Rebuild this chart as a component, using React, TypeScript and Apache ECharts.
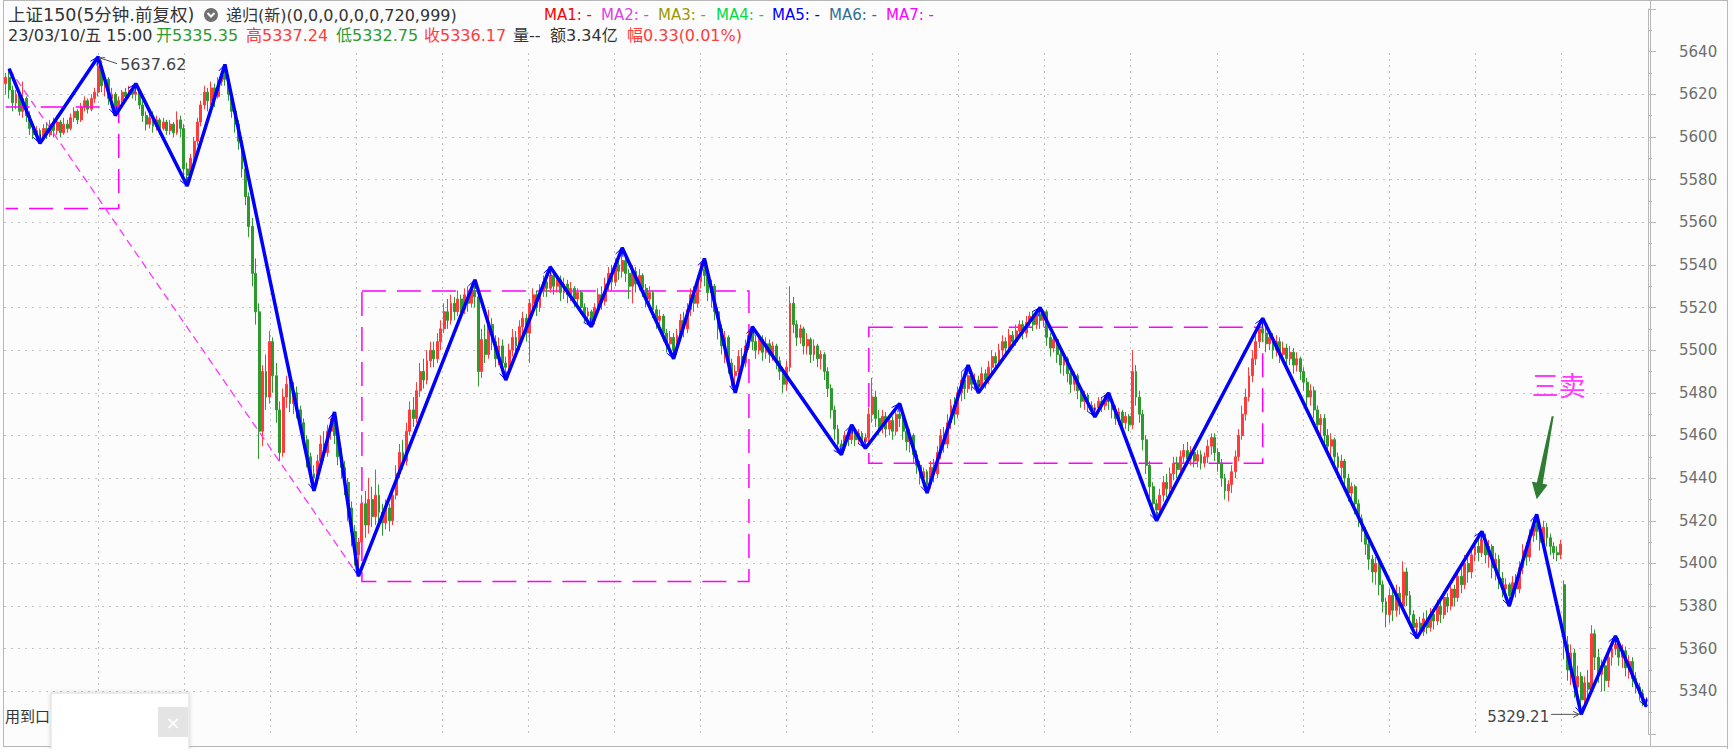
import React, { useEffect, useRef } from "react";
import * as echarts from "echarts";

// ---------------- DATA ----------------
// 5-minute bars of 上证150, rows are [open, close, low, high]
const day1 = [
  [5625,5628,5620,5630],[5628,5622,5618,5632],[5622,5616,5612,5624],[5616,5620,5613,5622],[5620,5612,5610,5621],
  [5612,5618,5609,5626],[5618,5610,5607,5619],[5610,5604,5601,5612],[5604,5601,5599,5606],[5601,5603,5598,5605],
  [5603,5599,5597,5604],[5599,5604,5598,5606],[5604,5601,5599,5607],[5601,5606,5600,5608],[5606,5603,5600,5609],
  [5603,5607,5601,5610],[5607,5602,5600,5608],[5602,5606,5601,5609],[5606,5604,5602,5608],[5604,5609,5603,5611],
  [5609,5612,5607,5614],[5612,5608,5606,5613],[5608,5614,5607,5616],[5614,5617,5612,5619],[5617,5613,5611,5618],
  [5613,5618,5612,5620],[5618,5621,5616,5623],[5621,5633,5619,5637.62],[5633,5624,5621,5634],[5624,5627,5619,5629],
  [5627,5618,5615,5628],[5618,5620,5614,5623],[5620,5613,5610,5621],[5613,5617,5611,5619],[5617,5621,5615,5622],
  [5621,5619,5617,5623],[5619,5622,5618,5624],[5622,5620,5618,5623],[5620,5621,5617,5625],[5621,5615,5613,5622],
  [5615,5610,5607,5617],[5610,5606,5603,5612],[5606,5609,5604,5611],[5609,5605,5602,5612],[5605,5608,5603,5610],
  [5608,5604,5601,5609],[5604,5607,5603,5609],[5607,5603,5601,5608],
];
const day2 = [
  [5603,5606,5601,5608],[5606,5602,5600,5607],[5602,5608,5601,5612],[5608,5604,5600,5610],[5604,5585,5580,5606],
  [5585,5582,5577,5588],[5582,5590,5580,5592],[5590,5598,5588,5600],[5598,5607,5596,5609],[5607,5615,5605,5617],
  [5615,5621,5613,5624],[5621,5617,5612,5623],[5617,5623,5615,5626],[5623,5619,5614,5625],[5619,5626,5618,5628],
  [5626,5629,5624,5631],[5629,5627,5624,5634],[5627,5620,5617,5629],[5620,5612,5609,5622],[5612,5606,5602,5614],
  [5606,5598,5594,5608],[5598,5585,5581,5600],[5585,5572,5568,5587],[5572,5558,5553,5574],[5558,5536,5530,5562],
  [5536,5518,5512,5543],[5518,5462,5449,5522],[5462,5490,5455,5493],[5490,5478,5472,5498],[5478,5504,5475,5509],
  [5504,5488,5480,5506],[5488,5472,5466,5494],[5472,5452,5448,5476],[5452,5478,5450,5482],[5478,5484,5473,5488],
  [5484,5475,5471,5486],[5475,5480,5470,5485],[5480,5472,5468,5483],[5472,5466,5462,5474],[5466,5458,5454,5468],
  [5458,5450,5445,5460],[5450,5442,5438,5452],[5442,5440,5434,5446],[5440,5448,5437,5451],[5448,5456,5444,5460],
  [5456,5452,5448,5462],[5452,5462,5450,5465],[5462,5466,5458,5468],
];
const day3 = [
  [5466,5460,5456,5471],[5460,5450,5446,5463],[5450,5445,5440,5454],[5445,5438,5432,5448],[5438,5426,5420,5440],
  [5426,5415,5408,5429],[5415,5404,5399,5418],[5404,5410,5394,5412],[5410,5428,5405,5432],[5428,5418,5412,5434],
  [5418,5430,5414,5440],[5430,5422,5417,5436],[5422,5432,5418,5444],[5432,5424,5419,5437],[5424,5419,5413,5428],
  [5419,5426,5416,5430],[5426,5420,5415,5428],[5420,5432,5418,5435],[5432,5442,5430,5446],[5442,5452,5440,5456],
  [5452,5448,5444,5458],[5448,5462,5446,5466],[5462,5472,5460,5476],[5472,5468,5464,5478],[5468,5481,5466,5485],
  [5481,5490,5478,5494],[5490,5486,5482,5496],[5486,5495,5484,5500],[5495,5500,5492,5504],[5500,5496,5492,5504],
  [5496,5504,5494,5508],[5504,5510,5500,5514],[5510,5518,5508,5522],[5518,5514,5510,5524],[5514,5522,5512,5526],
  [5522,5518,5514,5525],[5518,5524,5516,5528],[5524,5519,5515,5526],[5519,5526,5517,5529],[5526,5522,5518,5530],
  [5522,5528,5520,5531],[5528,5525,5520,5533],[5525,5490,5483,5528],[5490,5505,5487,5510],[5505,5498,5494,5512],
  [5498,5512,5496,5519],[5512,5504,5500,5515],[5504,5496,5492,5507],
];
const day4 = [
  [5496,5502,5493,5506],[5502,5494,5490,5505],[5494,5492,5486,5497],[5492,5500,5489,5503],[5500,5506,5497,5510],
  [5506,5502,5498,5509],[5502,5511,5500,5514],[5511,5515,5507,5518],[5515,5508,5504,5517],[5508,5522,5494,5524],
  [5522,5526,5518,5529],[5526,5520,5516,5528],[5520,5528,5518,5531],[5528,5532,5525,5535],[5532,5529,5525,5534],
  [5529,5535,5527,5539],[5535,5530,5526,5537],[5530,5533,5527,5536],[5533,5527,5523,5535],[5527,5531,5524,5534],
  [5531,5526,5522,5533],[5526,5529,5523,5532],[5529,5524,5520,5530],[5524,5527,5521,5529],[5527,5520,5517,5528],
  [5520,5516,5513,5522],[5516,5518,5512,5520],[5518,5514,5511,5519],[5514,5520,5512,5522],[5520,5526,5518,5529],
  [5526,5523,5519,5530],[5523,5531,5521,5534],[5531,5536,5528,5539],[5536,5532,5528,5540],[5532,5540,5530,5543],
  [5540,5537,5533,5544],[5537,5542,5534,5548],[5542,5536,5532,5545],[5536,5530,5524,5538],[5530,5537,5522,5540],
  [5537,5531,5527,5539],[5531,5535,5528,5538],[5535,5529,5525,5536],[5529,5524,5520,5531],[5524,5527,5519,5530],
  [5527,5519,5515,5528],[5519,5514,5510,5521],[5514,5516,5509,5519],
];
const day5 = [
  [5516,5508,5504,5517],[5508,5503,5499,5510],[5503,5506,5498,5509],[5506,5500,5496,5508],[5500,5507,5498,5510],
  [5507,5514,5505,5517],[5514,5510,5506,5518],[5510,5519,5508,5522],[5519,5526,5516,5529],[5526,5522,5518,5530],
  [5522,5532,5520,5535],[5532,5538,5529,5541],[5538,5535,5530,5543],[5535,5527,5523,5537],[5527,5530,5520,5533],
  [5530,5518,5514,5531],[5518,5510,5505,5520],[5510,5502,5498,5512],[5502,5506,5494,5509],[5506,5494,5489,5507],
  [5494,5488,5483,5496],[5488,5490,5480,5493],[5490,5497,5488,5500],[5497,5494,5490,5501],[5494,5502,5492,5505],
  [5502,5507,5500,5509],[5507,5504,5500,5511],[5504,5500,5496,5507],[5500,5505,5498,5508],[5505,5499,5495,5507],
  [5499,5503,5496,5506],[5503,5498,5494,5505],[5498,5502,5495,5504],[5502,5495,5491,5503],[5495,5490,5486,5497],
  [5490,5484,5480,5492],[5484,5492,5481,5495],[5492,5522,5490,5530],[5522,5512,5508,5525],[5512,5506,5502,5514],
  [5506,5510,5503,5512],[5510,5502,5498,5511],[5502,5505,5498,5508],[5505,5498,5494,5506],[5498,5502,5495,5505],
  [5502,5496,5492,5503],[5496,5498,5491,5500],[5498,5490,5486,5499],
];
const day6 = [
  [5490,5482,5478,5492],[5482,5472,5468,5484],[5472,5463,5458,5474],[5463,5456,5452,5465],[5456,5455,5451,5458],
  [5455,5460,5453,5462],[5460,5458,5455,5463],[5458,5462,5456,5465],[5462,5458,5455,5464],[5458,5461,5456,5463],
  [5461,5457,5455,5462],[5457,5459,5454,5461],[5459,5470,5457,5473],[5470,5478,5466,5487],[5478,5468,5464,5481],
  [5468,5464,5460,5472],[5464,5469,5461,5472],[5469,5463,5459,5471],[5463,5467,5460,5470],[5467,5462,5458,5469],
  [5462,5470,5460,5472],[5470,5468,5464,5475],[5468,5462,5458,5470],[5462,5457,5453,5464],[5457,5460,5452,5463],
  [5460,5451,5447,5461],[5451,5446,5442,5453],[5446,5440,5437,5448],[5440,5443,5436,5445],[5443,5437,5433,5444],
  [5437,5445,5435,5448],[5445,5442,5438,5449],[5442,5452,5440,5455],[5452,5460,5449,5463],[5460,5456,5452,5464],
  [5456,5466,5454,5470],[5466,5474,5463,5477],[5474,5470,5465,5478],[5470,5480,5468,5483],[5480,5486,5476,5490],
  [5486,5482,5477,5489],[5482,5488,5480,5493],[5488,5484,5481,5490],[5484,5486,5482,5489],[5486,5483,5480,5488],
  [5483,5489,5481,5492],[5489,5486,5482,5491],[5486,5492,5484,5495],
];
const day7 = [
  [5492,5497,5489,5500],[5497,5494,5490,5499],[5494,5500,5492,5503],[5500,5504,5497,5507],[5504,5501,5497,5506],
  [5501,5507,5499,5510],[5507,5504,5501,5509],[5504,5509,5502,5512],[5509,5512,5506,5514],[5512,5508,5505,5514],
  [5508,5513,5506,5516],[5513,5516,5511,5518],[5516,5512,5509,5518],[5512,5517,5510,5519],[5517,5514,5510,5520],
  [5514,5518,5511,5519],[5518,5506,5502,5519],[5506,5501,5497,5508],[5501,5505,5499,5508],[5505,5498,5494,5506],
  [5498,5493,5489,5500],[5493,5496,5488,5499],[5496,5489,5485,5497],[5489,5484,5480,5491],[5484,5488,5481,5490],
  [5488,5481,5477,5489],[5481,5476,5473,5483],[5476,5479,5472,5481],[5479,5474,5471,5480],[5474,5472,5470,5476],
  [5472,5473,5468.7,5475],[5473,5476,5471,5478],[5476,5474,5471,5478],[5474,5478,5472,5479],[5478,5476,5472,5480],
  [5476,5472,5468,5478],[5472,5468,5465,5474],[5468,5471,5465,5473],[5471,5466,5463,5472],[5466,5469,5463,5471],
  [5469,5465,5462,5470],[5465,5490,5463,5500],[5490,5478,5474,5493],[5478,5470,5466,5481],[5470,5458,5453,5472],
  [5458,5446,5442,5460],[5446,5436,5431,5448],[5436,5428,5424,5438],
];
const day8 = [
  [5428,5425,5420,5430],[5425,5432,5422,5435],[5432,5438,5429,5441],[5438,5435,5431,5442],[5435,5442,5433,5445],
  [5442,5447,5439,5450],[5447,5444,5440,5450],[5444,5450,5442,5453],[5450,5453,5447,5456],[5453,5449,5446,5457],
  [5449,5452,5446,5455],[5452,5448,5445,5454],[5448,5451,5445,5453],[5451,5447,5444,5453],[5447,5450,5445,5452],
  [5450,5455,5447,5458],[5455,5459,5451,5461],[5459,5452,5448,5461],[5452,5447,5443,5454],[5447,5440,5436,5449],
  [5440,5434,5430,5442],[5434,5437,5429,5439],[5437,5443,5433,5446],[5443,5450,5440,5453],[5450,5460,5448,5463],
  [5460,5470,5458,5474],[5470,5478,5467,5482],[5478,5488,5476,5492],[5488,5496,5485,5500],[5496,5504,5493,5507],
  [5504,5510,5501,5513],[5510,5508,5504,5515],[5508,5503,5499,5511],[5503,5506,5500,5509],[5506,5500,5496,5508],
  [5500,5504,5497,5507],[5504,5498,5494,5506],[5498,5501,5495,5504],[5501,5496,5492,5503],[5496,5499,5493,5502],
  [5499,5493,5489,5501],[5493,5496,5490,5499],[5496,5490,5486,5497],[5490,5485,5481,5492],[5485,5478,5474,5487],
  [5478,5481,5474,5484],[5481,5472,5468,5483],[5472,5465,5460,5474],
];
const day9 = [
  [5465,5468,5459,5470],[5468,5460,5456,5470],[5460,5455,5451,5463],[5455,5458,5449,5461],[5458,5450,5446,5459],
  [5450,5445,5440,5452],[5445,5448,5439,5451],[5448,5440,5436,5449],[5440,5433,5429,5442],[5433,5436,5428,5438],
  [5436,5428,5423,5437],[5428,5421,5417,5430],[5421,5415,5410,5423],[5415,5409,5404,5417],[5409,5402,5397,5411],
  [5402,5396,5391,5404],[5396,5400,5390,5403],[5400,5390,5385,5402],[5390,5382,5377,5392],[5382,5376,5370,5384],
  [5376,5385,5372,5388],[5385,5378,5373,5388],[5378,5386,5375,5390],[5386,5380,5376,5389],[5380,5396,5378,5401],
  [5396,5385,5380,5398],[5385,5376,5372,5387],[5376,5370,5367,5378],[5370,5372,5365,5374],[5372,5368,5366,5375],
  [5368,5374,5366,5377],[5374,5370,5367,5378],[5370,5376,5368,5379],[5376,5373,5369,5378],[5373,5380,5371,5383],
  [5380,5376,5372,5382],[5376,5384,5374,5387],[5384,5380,5377,5386],[5380,5388,5378,5392],[5388,5384,5380,5390],
  [5384,5394,5382,5397],[5394,5390,5386,5398],[5390,5400,5388,5404],[5400,5396,5391,5403],[5396,5404,5393,5407],
  [5404,5408,5401,5411],[5408,5405,5401,5412],[5405,5411,5403,5415],
];
const day10 = [
  [5411,5404,5400,5414],[5404,5408,5398,5411],[5408,5398,5393,5409],[5398,5402,5392,5405],[5402,5393,5388,5404],
  [5393,5388,5384,5396],[5388,5390,5383,5393],[5390,5385,5380,5391],[5385,5391,5383,5394],[5391,5388,5384,5395],
  [5388,5398,5386,5401],[5398,5406,5395,5409],[5406,5403,5399,5410],[5403,5413,5401,5416],[5413,5418,5410,5421],
  [5418,5415,5411,5423],[5415,5410,5406,5418],[5410,5417,5408,5420],[5417,5412,5408,5419],[5412,5408,5404,5414],
  [5408,5405,5402,5410],[5405,5404,5401,5408],[5404,5409,5402,5411],[5390,5362,5355,5392],[5362,5350,5345,5366],
  [5350,5358,5343,5362],[5358,5342,5337,5360],[5342,5347,5334,5352],[5347,5336,5329.21,5349],[5336,5344,5333,5347],
  [5344,5341,5337,5350],[5341,5367,5339,5371],[5367,5356,5350,5369],[5356,5348,5344,5360],[5348,5352,5340,5355],
  [5352,5345,5340,5356],[5345,5356,5342,5359],[5356,5360,5352,5363],[5360,5362,5357,5366],[5362,5356,5352,5365],
  [5356,5359,5351,5362],[5359,5351,5347,5361],[5351,5354,5346,5357],[5354,5346,5342,5356],[5346,5342,5339,5349],
  [5342,5339,5336,5344],[5339,5335.35,5333,5341],[5335.35,5336.17,5332.75,5337.24],
];

// 笔 (zig-zag strokes): bar index and turning price
const strokeIdx = [1,10,27,32,38,53,64,90,96,103,137,146,159,171,180,195,204,213,218,244,247,251,261,269,281,284,302,318,322,336,367,412,431,439,447,460,470,479];
const strokeVal = [5632,5597,5637.62,5610,5625,5577,5634,5434,5471,5394,5533,5486,5539,5511,5548,5496,5543,5480,5511,5451,5465,5454,5475,5433,5493,5480,5520,5468.7,5480,5420,5515,5365,5415,5380,5423,5329.21,5366,5332.75];

// 线段 (segment)
const segmentIdx = [1, 103];
const segmentVal = [5632, 5394];

// 中枢 (pivot boxes); the first one starts before the visible window
const pivotStart = [0, 104, 252];
const pivotEnd = [33, 217, 367];
const pivotHigh = [5614, 5527.7, 5510.8];
const pivotLow = [5566.5, 5391.5, 5447];

// price axis
const yMin = 5320;
const yMax = 5660;
const yStep = 20;
const gridFrom = 5340; // first and last dotted price lines
const gridTo = 5620;

// annotations
const highIdx = 27;
const highVal = 5637.62;
const lowIdx = 460;
const lowVal = 5329.21;
const signalIdx = 447;
const signalVal = 5423;
const signalText = "三卖";

// header texts
const titleText = "上证150(5分钟.前复权)";
const formulaText = "递归(新)(0,0,0,0,0,0,720,999)";
const quoteTexts = ["23/03/10/五 15:00", "开5335.35", "高5337.24", "低5332.75", "收5336.17", "量--", "额3.34亿", "幅0.33(0.01%)"];
const maTexts = ["MA1: -", "MA2: -", "MA3: -", "MA4: -", "MA5: -", "MA6: -", "MA7: -"];
const footText = "用到口";

// ---------------- STYLE / LAYOUT ----------------
const FONT = "'DejaVu Sans', 'Noto Sans CJK SC', sans-serif";
const CJK_FONT = "'Noto Sans CJK SC', sans-serif";
const UP = "#ff3b3b";
const DOWN = "#2e9a2e";
const STROKE = "#0000ff";
const PIVOT = "#ff00ff";
const GRIDLINE = "#c4c4c4";
const quoteX = [8, 156, 246, 336, 424, 513, 550, 627];
const quoteColor = ["#333333", DOWN, UP, DOWN, UP, "#333333", "#333333", UP];
const maX = [544, 601, 658, 716, 772, 829, 886];
const maColor = ["#ff0000", "#dd44dd", "#999900", "#00dd44", "#0000ff", "#336f8f", "#ff00ff"];
const FRAME = "#b8b8b8";

const candles = [...day1, ...day2, ...day3, ...day4, ...day5, ...day6, ...day7, ...day8, ...day9, ...day10].map(
  ([o, c, l, h]) => [o, c, Math.min(l, o, c), Math.max(h, o, c)]
);
const categories = candles.map((_, i) => String(i));

// colour per horizontal split line (one per tick from yMin to yMax)
const hLineColors: string[] = [];
for (let v = yMin; v <= yMax; v += yStep) hLineColors.push(v >= gridFrom && v <= gridTo ? GRIDLINE : "rgba(0,0,0,0)");

export default function App() {
  const ref = useRef<HTMLDivElement>(null);

  useEffect(() => {
    const chart = echarts.init(ref.current!, null, { renderer: "svg" });
    const option: any = {
      animation: false,
      backgroundColor: "#fcfcfc",
      grid: [
        { left: 4, right: 85, top: 9, bottom: 15 },
        { left: 11.94, width: 1549.1, top: 53, bottom: 15 },
      ],
      xAxis: [
        { type: "category", gridIndex: 0, data: categories, boundaryGap: true, show: false },
        {
          type: "value", gridIndex: 1, min: 0, max: 18, interval: 1,
          axisLine: { show: false }, axisTick: { show: false }, axisLabel: { show: false },
          splitLine: { show: true, showMinLine: false, showMaxLine: true, lineStyle: { color: GRIDLINE, type: [2, 4], width: 1 } },
        },
      ],
      yAxis: [
        {
          type: "value", gridIndex: 0, position: "right", min: yMin, max: yMax, interval: yStep,
          axisLine: { show: true, lineStyle: { color: FRAME } },
          axisTick: { show: true, length: 8, lineStyle: { color: FRAME } },
          minorTick: { show: true, splitNumber: 2, length: 4, lineStyle: { color: FRAME } },
          axisLabel: {
            margin: 31, color: "#6e6e6e", fontSize: 15, fontFamily: FONT,
            showMinLabel: false, showMaxLabel: false,
            formatter: (v: number) => (v <= yMin || v >= yMax ? "" : String(v)),
          },
          splitLine: { show: true, lineStyle: { color: hLineColors, type: [2, 5], width: 1 } },
        },
        { type: "value", gridIndex: 1, show: false, min: 0, max: 1 },
      ],
      series: [
        {
          type: "candlestick",
          xAxisIndex: 0, yAxisIndex: 0,
          data: candles,
          barWidth: 2.4,
          itemStyle: { color: UP, color0: DOWN, borderColor: UP, borderColor0: DOWN, borderWidth: 1 },
          markArea: {
            silent: true,
            itemStyle: { color: "rgba(0,0,0,0)", borderColor: PIVOT, borderWidth: 1.5, borderType: [24, 11] },
            data: pivotStart.slice(1).map((s, k) => [
              { xAxis: s, yAxis: pivotHigh[k + 1] },
              { xAxis: pivotEnd[k + 1], yAxis: pivotLow[k + 1] },
            ]),
          },
          z: 2,
        },
        {
          // first pivot box: its left side lies outside the window, so draw its three visible sides
          type: "line",
          xAxisIndex: 0, yAxisIndex: 0,
          data: [
            [pivotStart[0], pivotHigh[0]],
            [pivotEnd[0], pivotHigh[0]],
            [pivotEnd[0], pivotLow[0]],
            [pivotStart[0], pivotLow[0]],
          ],
          symbol: "none",
          lineStyle: { color: PIVOT, width: 1.5, type: [24, 11] },
          z: 3,
        },
        {
          type: "line",
          xAxisIndex: 0, yAxisIndex: 0,
          data: segmentIdx.map((x, k) => [x, segmentVal[k]]),
          symbol: "none",
          lineStyle: { color: "#ff33ff", width: 1.3, type: [8, 5] },
          z: 3,
        },
        {
          type: "line",
          xAxisIndex: 0, yAxisIndex: 0,
          data: strokeIdx.map((x, k) => [x, strokeVal[k]]),
          symbol: "none",
          lineStyle: { color: STROKE, width: 3.5 },
          z: 4,
        },
      ],
    };
    chart.setOption(option);

    const px = (i: number, v: number) => chart.convertToPixel({ seriesIndex: 0 }, [i, v]) as number[];
    const hp = px(highIdx, highVal);
    const lp = px(lowIdx, lowVal);
    const sp = px(signalIdx, signalVal);
    const tip = [sp[0], sp[1] - 15];
    const arrowPts = [[15, -83], [17, -83], [6, -15.6], [11, -14.7], [0, 0], [-4.8, -17.7], [0.2, -16.8]].map(
      ([dx, dy]) => [tip[0] + dx, tip[1] + dy]
    );

    // small arrow heads at the end of each stroke
    const vertexPx = strokeIdx.map((x, k) => px(x, strokeVal[k]));
    const heads: any[] = [];
    for (let k = 1; k < vertexPx.length; k++) {
      const [x0, y0] = vertexPx[k - 1];
      const [x1, y1] = vertexPx[k];
      const len = Math.hypot(x1 - x0, y1 - y0) || 1;
      const ux = (x1 - x0) / len;
      const uy = (y1 - y0) / len;
      const a = 0.45;
      const L = 9;
      const rot = (s: number) => [
        x1 - L * (ux * Math.cos(a) - s * uy * Math.sin(a)),
        y1 - L * (uy * Math.cos(a) + s * ux * Math.sin(a)),
      ];
      heads.push({
        type: "polyline", z: 30,
        shape: { points: [rot(1), [x1, y1], rot(-1)] },
        style: { stroke: STROKE, lineWidth: 1, fill: null },
      });
    }

    const txt = (text: string, x: number, y: number, fill: string, fontSize: number, extra: any = {}) => ({
      type: "text", x, y, z: 50,
      style: { text, fill, fontSize, fontFamily: FONT, verticalAlign: "middle", align: "left", ...extra },
    });
    const ln = (x1: number, y1: number, x2: number, y2: number, stroke: string, lineWidth = 1, z = 40) => ({
      type: "line", z, shape: { x1, y1, x2, y2 }, style: { stroke, lineWidth },
    });

    const graphic: any[] = [
      ...heads,
      // frame
      ln(3, 0.5, 1728, 0.5, FRAME),
      ln(3.5, 0, 3.5, 747, FRAME),
      ln(3, 746.5, 1728, 746.5, FRAME),
      ln(1650.5, 0, 1650.5, 747, FRAME),
      ln(1727.5, 0, 1727.5, 749, FRAME),
      // header line 1
      txt(titleText, 8, 15, "#333333", 17.5),
      { type: "circle", z: 50, shape: { cx: 211, cy: 15, r: 7 }, style: { fill: "#707070" } },
      { type: "polyline", z: 51, shape: { points: [[207.5, 13], [211, 16.5], [214.5, 13]] }, style: { stroke: "#ffffff", lineWidth: 2, fill: null } },
      txt(formulaText, 226, 15, "#333333", 16),
      ...maTexts.map((t, k) => txt(t, maX[k], 15, maColor[k], 15)),
      // header line 2
      ...quoteTexts.map((t, k) => txt(t, quoteX[k], 35, quoteColor[k], 16)),
      // high label
      ln(hp[0] + 1, hp[1] + 1, hp[0] + 19, hp[1] + 7, "#555555", 1, 45),
      ln(hp[0] + 1, hp[1] + 1, hp[0] + 7, hp[1] + 1, "#555555", 1, 45),
      ln(hp[0] + 1, hp[1] + 1, hp[0] + 4, hp[1] + 6, "#555555", 1, 45),
      txt(highVal.toFixed(2), hp[0] + 22, hp[1] + 8, "#444444", 16),
      // low label
      ln(lp[0] - 30, lp[1], lp[0] - 2, lp[1], "#555555", 1, 45),
      ln(lp[0] - 2, lp[1], lp[0] - 8, lp[1] - 3, "#555555", 1, 45),
      ln(lp[0] - 2, lp[1], lp[0] - 8, lp[1] + 3, "#555555", 1, 45),
      txt(lowVal.toFixed(2), lp[0] - 32, lp[1] + 3, "#444444", 15, { align: "right" }),
      // signal
      { type: "polygon", z: 45, shape: { points: arrowPts }, style: { fill: "#2e7d32" } },
      {
        type: "text", z: 50, x: tip[0] + 22, y: tip[1] - 115,
        style: { text: signalText, fill: "#ff3cff", fontSize: 27, fontFamily: CJK_FONT, align: "center", verticalAlign: "middle" },
      },
      // footer
      txt(footText, 5, 717, "#333333", 15),
      {
        type: "rect", z: 60, shape: { x: 51, y: 693, width: 138, height: 60 },
        style: { fill: "#ffffff", stroke: "#dcdcdc", lineWidth: 1, shadowBlur: 4, shadowColor: "rgba(0,0,0,0.15)" },
      },
      { type: "rect", z: 61, shape: { x: 158, y: 707, width: 30, height: 30 }, style: { fill: "#e4e4e4" } },
      {
        type: "text", z: 62, x: 173, y: 722,
        style: { text: "×", fill: "#ffffff", fontSize: 18, fontFamily: FONT, align: "center", verticalAlign: "middle" },
      },
    ];
    chart.setOption({ graphic });

    return () => chart.dispose();
  }, []);

  return <div ref={ref} style={{ position: "fixed", left: 0, top: 0, width: 1733, height: 749 }} />;
}
